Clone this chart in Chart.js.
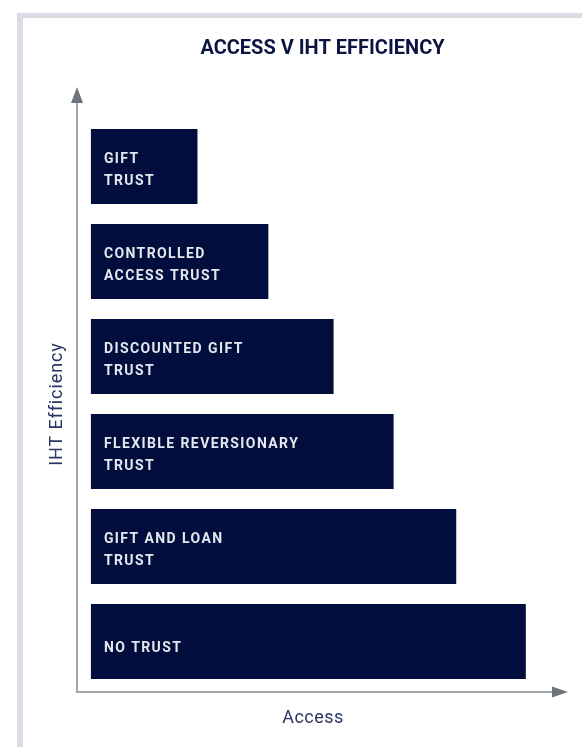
<!DOCTYPE html>
<html>
<head>
<meta charset="utf-8">
<title>Access v IHT Efficiency</title>
<script src="https://cdn.jsdelivr.net/npm/chart.js"></script>
<style>
  html, body { margin: 0; padding: 0; background: #fff; }
  .wrap { position: relative; width: 582px; height: 747px; overflow: hidden; }
  .frame {
    position: absolute; left: 17px; top: 13px; width: 700px; height: 900px;
    border-top: 5px solid #dcdce5; border-left: 6px solid #dcdce5;
  }
  #chart { position: absolute; left: 0; top: 0; }
</style>
</head>
<body>
<div class="wrap">
  <div class="frame"></div>
  <canvas id="chart" width="582" height="747"></canvas>
</div>
<script>
// trusts, ordered top to bottom (least access first)
const trustLabels = [
  ['GIFT', 'TRUST'],
  ['CONTROLLED', 'ACCESS TRUST'],
  ['DISCOUNTED GIFT', 'TRUST'],
  ['FLEXIBLE REVERSIONARY', 'TRUST'],
  ['GIFT AND LOAN', 'TRUST'],
  ['NO TRUST']
];
// relative access, No Trust = 100
const accessValues = [24.5, 40.8, 55.8, 69.6, 84, 100];

const chartTitle = 'ACCESS V IHT EFFICIENCY';
const xAxisTitle = 'Access';
const yAxisTitle = 'IHT Efficiency';

const NAVY = '#000d3d';
const AXIS_GREY = '#a2a7ab';
const ARROW_GREY = '#6e7479';

// draws the arrow axes, axis titles and the text inside each bar
const trustDecor = {
  id: 'trustDecor',
  afterDatasetsDraw(chart) {
    const { ctx, chartArea } = chart;
    const meta = chart.getDatasetMeta(0);
    const ox = chartArea.left;
    const oy = chartArea.bottom + 3;
    const yTop = chartArea.top - 32;
    const xEnd = chartArea.right;

    ctx.save();
    // axis lines
    ctx.strokeStyle = AXIS_GREY;
    ctx.lineWidth = 2;
    ctx.beginPath();
    ctx.moveTo(ox, yTop + 14);
    ctx.lineTo(ox, oy);
    ctx.lineTo(xEnd - 14, oy);
    ctx.stroke();
    // arrow heads
    ctx.fillStyle = ARROW_GREY;
    ctx.beginPath();
    ctx.moveTo(ox, yTop);
    ctx.lineTo(ox - 6, yTop + 16);
    ctx.lineTo(ox + 6, yTop + 16);
    ctx.closePath();
    ctx.fill();
    ctx.beginPath();
    ctx.moveTo(xEnd, oy);
    ctx.lineTo(xEnd - 16, oy - 5.5);
    ctx.lineTo(xEnd - 16, oy + 5.5);
    ctx.closePath();
    ctx.fill();

    // axis titles
    ctx.fillStyle = '#2b3462';
    ctx.font = '18px Roboto';
    ctx.letterSpacing = '0.5px';
    ctx.textAlign = 'center';
    ctx.textBaseline = 'middle';
    ctx.fillText(xAxisTitle, 313, oy + 26);
    ctx.save();
    ctx.translate(57, 404);
    ctx.rotate(-Math.PI / 2);
    ctx.letterSpacing = '0.9px';
    ctx.fillText(yAxisTitle, 0, 0);
    ctx.restore();

    // bar labels
    ctx.fillStyle = '#e4e7ee';
    ctx.font = 'bold 14px Roboto';
    ctx.letterSpacing = '1.4px';
    ctx.textAlign = 'left';
    meta.data.forEach((bar, i) => {
      const lines = trustLabels[i];
      const x = bar.base + 13;
      const lh = 22;
      const start = bar.y + 3.5 - (lines.length - 1) * lh / 2 + (lines.length === 1 ? 3.5 : 0);
      lines.forEach((t, j) => ctx.fillText(t, x, start + j * lh));
    });
    ctx.restore();
  }
};

new Chart(document.getElementById('chart'), {
  type: 'bar',
  data: {
    labels: trustLabels.map(l => l.join(' ')),
    datasets: [{
      data: accessValues,
      backgroundColor: NAVY,
      borderWidth: 0,
      categoryPercentage: 1,
      barPercentage: 0.79
    }]
  },
  options: {
    indexAxis: 'y',
    responsive: false,
    animation: false,
    layout: { padding: { left: 77, right: 14, top: 0, bottom: 58 } },
    scales: {
      x: { type: 'linear', min: -3.2, max: 109.7, display: false },
      y: { type: 'category', offset: true, display: false }
    },
    plugins: {
      legend: { display: false },
      tooltip: { enabled: false },
      title: {
        display: true,
        text: chartTitle,
        fullSize: false,
        color: '#0c1442',
        font: { family: 'Roboto', size: 20, weight: 'bold' },
        padding: { top: 37, bottom: 58 }
      }
    }
  },
  plugins: [trustDecor]
});
</script>
</body>
</html>
